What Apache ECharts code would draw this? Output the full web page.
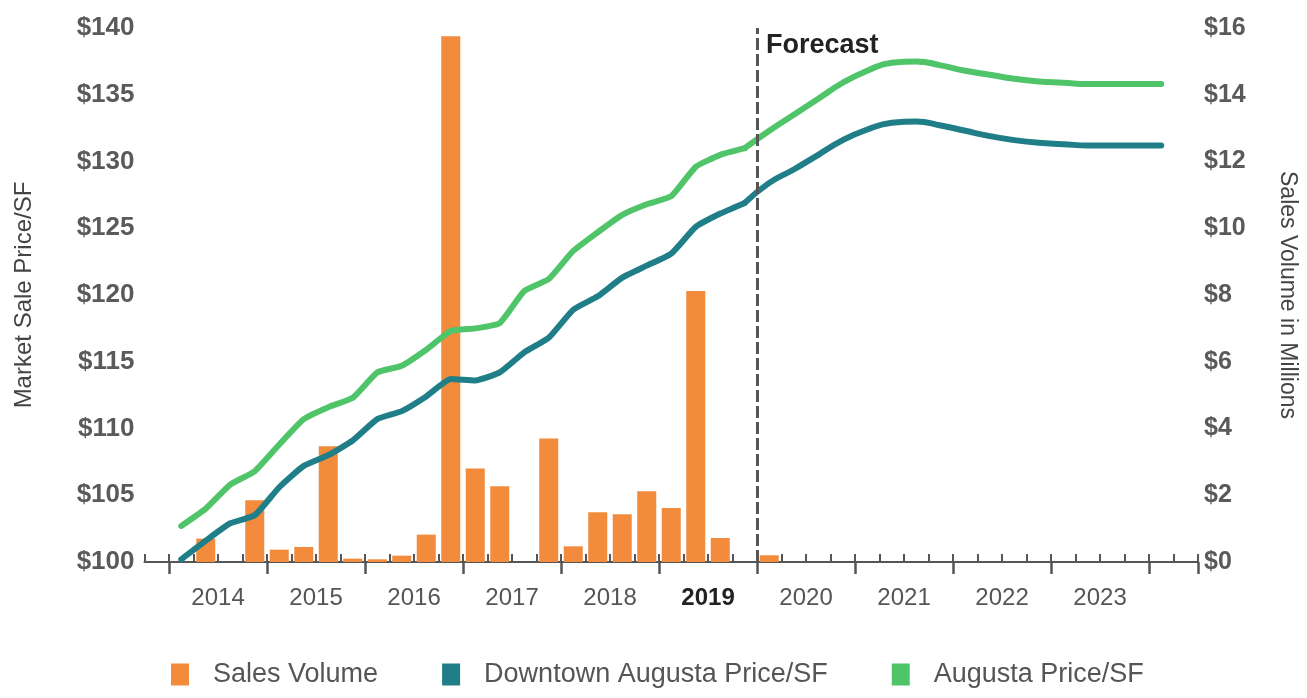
<!DOCTYPE html>
<html>
<head>
    <meta charset="utf-8">
    <title>Augusta Price/SF and Sales Volume</title>
    <script src="https://cdn.jsdelivr.net/npm/echarts@6.0.0/dist/echarts.min.js"></script>
    <style>
        html, body { margin: 0; padding: 0; background: #fff; }
        #main { width: 1307px; height: 698px; }
    </style>
</head>
<body>
    <div id="main"></div>
    <script>
        // quarterly categories (first and last slots only pad the axis)
        const quarters = [
            '2013 Q4',
            '2014 Q1', '2014 Q2', '2014 Q3', '2014 Q4',
            '2015 Q1', '2015 Q2', '2015 Q3', '2015 Q4',
            '2016 Q1', '2016 Q2', '2016 Q3', '2016 Q4',
            '2017 Q1', '2017 Q2', '2017 Q3', '2017 Q4',
            '2018 Q1', '2018 Q2', '2018 Q3', '2018 Q4',
            '2019 Q1', '2019 Q2', '2019 Q3', '2019 Q4',
            '2020 Q1', '2020 Q2', '2020 Q3', '2020 Q4',
            '2021 Q1', '2021 Q2', '2021 Q3', '2021 Q4',
            '2022 Q1', '2022 Q2', '2022 Q3', '2022 Q4',
            '2023 Q1', '2023 Q2', '2023 Q3', '2023 Q4',
            '2024 Q1', '2024 Q2'
        ];

        // years that get a label under the axis
        const yearLabels = ['2014', '2015', '2016', '2017', '2018', '2019', '2020', '2021', '2022', '2023'];

        // sales volume in $ millions (right axis)
        const salesVolume = [
            null,
            0, 0.70, 0, 1.85,
            0.37, 0.45, 3.47, 0.10,
            0.08, 0.19, 0.82, 15.75,
            2.80, 2.27, 0, 3.70,
            0.47, 1.49, 1.43, 2.12,
            1.62, 8.12, 0.72, 0,
            0.20, null, null, null,
            null, null, null, null,
            null, null, null, null,
            null, null, null, null,
            null, null
        ];

        // market sale price per SF (left axis)
        const downtownPrice = [
            null,
            100.2, 101.6, 102.9, 103.5,
            105.6, 107.2, 108.0, 109.1,
            110.7, 111.3, 112.4, 113.7,
            113.6, 114.2, 115.7, 116.8,
            118.9, 119.9, 121.3, 122.2,
            123.1, 125.1, 126.1, 126.9,
            128.4, 129.4, 130.5, 131.6,
            132.4, 132.9, 133.0, 132.7,
            132.3, 131.9, 131.6, 131.4,
            131.3, 131.2, 131.2, 131.2,
            131.2, null
        ];

        const augustaPrice = [
            null,
            102.7, 104.0, 105.8, 106.8,
            108.8, 110.7, 111.6, 112.3,
            114.2, 114.7, 115.9, 117.3,
            117.5, 117.9, 120.3, 121.2,
            123.3, 124.7, 126.0, 126.8,
            127.4, 129.6, 130.5, 131.0,
            132.3, 133.5, 134.7, 135.9,
            136.8, 137.4, 137.5, 137.2,
            136.8, 136.5, 136.2, 136.0,
            135.9, 135.8, 135.8, 135.8,
            135.8, null
        ];

        const forecastStart = quarters.indexOf('2020 Q1');
        const lastActual = forecastStart - 1;

        // split a series into history / forecast parts
        const histPart = arr => arr.map((v, i) => (i <= lastActual ? v : null));
        const forePart = arr => arr.map((v, i) => (i >= lastActual ? v : null));

        const ORANGE = '#f28b3b';
        const TEAL = '#1f7e87';
        const GREEN = '#4fc468';
        const FONT = '"Liberation Sans", Arial, sans-serif';

        const chart = echarts.init(document.getElementById('main'));

        const lineSeries = (name, data, color, smooth) => ({
            name: name,
            type: 'line',
            xAxisIndex: 0,
            yAxisIndex: 0,
            data: data,
            smooth: smooth,
            showSymbol: false,
            symbol: 'none',
            lineStyle: { color: color, width: 6, cap: 'round', join: 'round' },
            itemStyle: { color: color },
            z: 3
        });

        const option = {
            animation: false,
            textStyle: { fontFamily: FONT },
            title: {
                text: 'Forecast',
                left: 761,
                top: 27,
                textStyle: { fontSize: 27, fontWeight: 'bold', color: '#222', fontFamily: FONT }
            },
            legend: {
                data: ['Sales Volume', 'Downtown Augusta Price/SF', 'Augusta Price/SF'],
                left: 166,
                top: 656,
                icon: 'rect',
                itemWidth: 18,
                itemHeight: 22,
                itemGap: 64,
                textStyle: { fontSize: 27, color: '#555', padding: [0, 0, 0, 19] }
            },
            grid: { left: 144.5, right: 105, top: 28, bottom: 136, containLabel: false },
            xAxis: [
                {
                    // quarter ticks
                    type: 'category',
                    data: quarters,
                    boundaryGap: true,
                    axisLine: { show: true, lineStyle: { color: '#555', width: 2 } },
                    axisTick: { show: true, interval: 0, inside: true, length: 8, lineStyle: { color: '#555', width: 2 } },
                    axisLabel: { show: false },
                    splitLine: { show: false }
                },
                {
                    // year ticks and year labels
                    type: 'category',
                    data: quarters,
                    boundaryGap: true,
                    position: 'bottom',
                    axisLine: { show: false },
                    axisTick: {
                        show: true,
                        interval: (i, v) => v.endsWith('Q1'),
                        length: 12,
                        lineStyle: { color: '#555', width: 2.5 }
                    },
                    axisLabel: {
                        interval: (i, v) => v.endsWith('Q2') && yearLabels.includes(v.slice(0, 4)),
                        margin: 24,
                        fontSize: 24,
                        color: '#555',
                        padding: [0, 0, 0, 24.6],
                        formatter: v => {
                            const y = v.slice(0, 4);
                            return y === '2019' ? '{b|' + y + '}' : y;
                        },
                        rich: { b: { fontSize: 24, fontWeight: 'bold', color: '#222', fontFamily: FONT } }
                    },
                    splitLine: { show: false }
                },
                {
                    // hidden helper axis for the forecast divider
                    type: 'value',
                    min: 0,
                    max: quarters.length,
                    show: false
                }
            ],
            yAxis: [
                {
                    type: 'value',
                    min: 100,
                    max: 140,
                    interval: 5,
                    name: 'Market Sale Price/SF',
                    nameLocation: 'middle',
                    nameRotate: 90,
                    nameGap: 108,
                    nameTextStyle: { fontSize: 24, color: '#444' },
                    axisLine: { show: false },
                    axisTick: { show: false },
                    axisLabel: { formatter: v => '$' + v, fontSize: 26, fontWeight: 'bold', color: '#5a5a5a', margin: 10 },
                    splitLine: { show: false }
                },
                {
                    type: 'value',
                    min: 0,
                    max: 16,
                    interval: 2,
                    position: 'right',
                    name: 'Sales Volume in Millions',
                    nameLocation: 'middle',
                    nameRotate: -90,
                    nameGap: 78,
                    nameTextStyle: { fontSize: 23, color: '#444' },
                    axisLine: { show: false },
                    axisTick: { show: false },
                    axisLabel: { formatter: v => '$' + v, fontSize: 25, fontWeight: 'bold', color: '#5a5a5a', margin: 6 },
                    splitLine: { show: false }
                }
            ],
            series: [
                {
                    name: 'Sales Volume',
                    type: 'bar',
                    xAxisIndex: 0,
                    yAxisIndex: 1,
                    data: salesVolume,
                    barWidth: 19,
                    itemStyle: { color: ORANGE },
                    z: 2
                },
                lineSeries('Downtown Augusta Price/SF', histPart(downtownPrice), TEAL, 0.15),
                lineSeries('Downtown Augusta Price/SF', forePart(downtownPrice), TEAL, 0.5),
                lineSeries('Augusta Price/SF', histPart(augustaPrice), GREEN, 0.15),
                lineSeries('Augusta Price/SF', forePart(augustaPrice), GREEN, 0.5),
                {
                    name: 'forecast divider',
                    type: 'line',
                    xAxisIndex: 2,
                    yAxisIndex: 0,
                    data: [],
                    markLine: {
                        silent: true,
                        symbol: 'none',
                        label: { show: false },
                        lineStyle: { color: '#555', width: 3, type: [12, 4] },
                        data: [{ xAxis: forecastStart }]
                    },
                    z: 4
                }
            ]
        };

        chart.setOption(option);
    </script>
</body>
</html>
